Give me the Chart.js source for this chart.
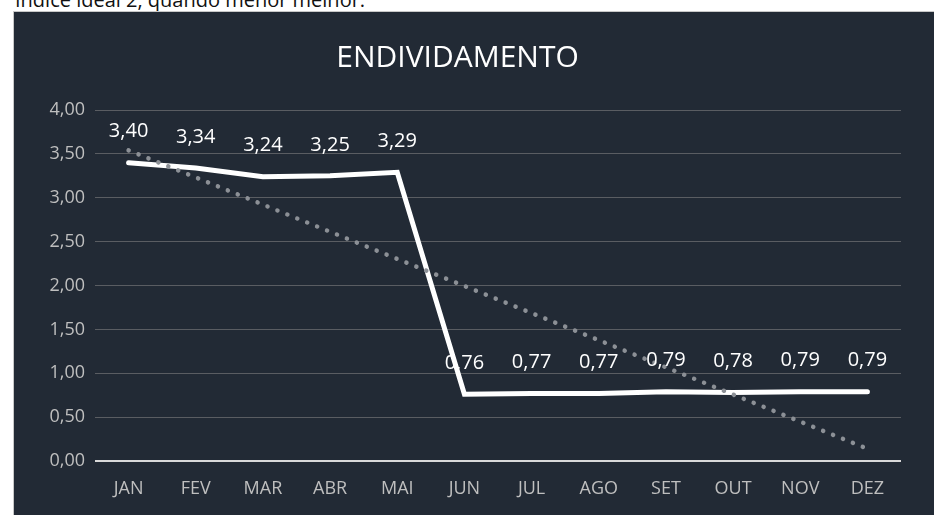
<!DOCTYPE html>
<html>
<head>
<meta charset="utf-8">
<script src="https://cdn.jsdelivr.net/npm/chart.js@4.4.1/dist/chart.umd.min.js"></script>
<style>
  html, body { margin: 0; padding: 0; background: #fff; overflow: hidden; }
  body { width: 934px; height: 515px; position: relative; }
  #note { position: absolute; left: 15px; top: -14px; font: 20px "Open Sans", sans-serif; color: #111; white-space: nowrap; }
  #box { position: absolute; left: 13px; top: 11px; width: 921px; height: 504px; background: #222a35; border-left: 1px solid #c8c8c8; border-top: 1px solid #c8c8c8; box-sizing: border-box; }
</style>
</head>
<body>
<div id="note">Índice ideal 2, quando menor melhor.</div>
<div id="box"><canvas id="myChart" width="920" height="503"></canvas></div>
<script>
'use strict'
var meses = ['JAN', 'FEV', 'MAR', 'ABR', 'MAI', 'JUN', 'JUL', 'AGO', 'SET', 'OUT', 'NOV', 'DEZ'];
var endividamento = [3.40, 3.34, 3.24, 3.25, 3.29, 0.76, 0.77, 0.77, 0.79, 0.78, 0.79, 0.79];
// linha de tendencia (lida no grafico, so as pontas)
var tendencia = [3.54, null, null, null, null, null, null, null, null, null, null, 0.14];

function fmt(v) {
    return v.toFixed(2).replace('.', ',');
}

// rotulos em cima dos pontos
var rotulos = {
    id: 'rotulos',
    afterDatasetsDraw: function (chart) {
        var ctx = chart.ctx;
        var meta = chart.getDatasetMeta(0);
        ctx.save();
        ctx.fillStyle = '#ffffff';
        ctx.font = '20px "Open Sans"';
        ctx.textAlign = 'center';
        ctx.textBaseline = 'middle';
        meta.data.forEach(function (pt, i) {
            ctx.fillText(fmt(endividamento[i]), pt.x, pt.y - 31);
        });
        ctx.restore();
    }
};

var ctx = document.getElementById('myChart').getContext('2d');
var chart = new Chart(ctx, {
    type: 'line',
    data: {
        labels: meses,
        datasets: [{
            label: 'Endividamento',
            data: endividamento,
            borderColor: '#ffffff',
            borderWidth: 5,
            borderCapStyle: 'round',
            pointRadius: 0,
            tension: 0,
            order: 1
        }, {
            label: 'Tendencia',
            data: tendencia,
            spanGaps: true,
            borderColor: '#8c9096',
            borderWidth: 4.5,
            borderCapStyle: 'round',
            borderDash: [0.1, 10.6],
            pointRadius: 0,
            tension: 0,
            order: 0
        }]
    },
    options: {
        responsive: false,
        animation: false,
        layout: { padding: { left: 0, right: 33, top: 0, bottom: 0 } },
        plugins: {
            legend: { display: false },
            tooltip: { enabled: false },
            title: {
                display: true,
                text: 'ENDIVIDAMENTO',
                color: '#ffffff',
                font: { family: 'Open Sans', size: 30, weight: 'normal' },
                padding: { top: 28, bottom: 34 }
            }
        },
        scales: {
            x: {
                offset: true,
                grid: { display: false, drawTicks: false },
                border: { display: false },
                ticks: { color: '#bfbfbf', font: { family: 'Open Sans', size: 18 }, padding: 17 },
                afterFit: function (s) { s.height = 54; }
            },
            y: {
                min: 0,
                max: 4,
                ticks: {
                    stepSize: 0.5,
                    color: '#bfbfbf',
                    font: { family: 'Open Sans', size: 18 },
                    padding: 10,
                    callback: function (v) { return fmt(v); }
                },
                grid: {
                    drawTicks: false,
                    color: function (c) { return c.tick.value === 0 ? '#d9d9d9' : '#5a5d62'; },
                    lineWidth: function (c) { return c.tick.value === 0 ? 2 : 1; }
                },
                border: { display: false },
                afterFit: function (s) { s.width = 81; }
            }
        }
    },
    plugins: [rotulos]
});
</script>
</body>
</html>
